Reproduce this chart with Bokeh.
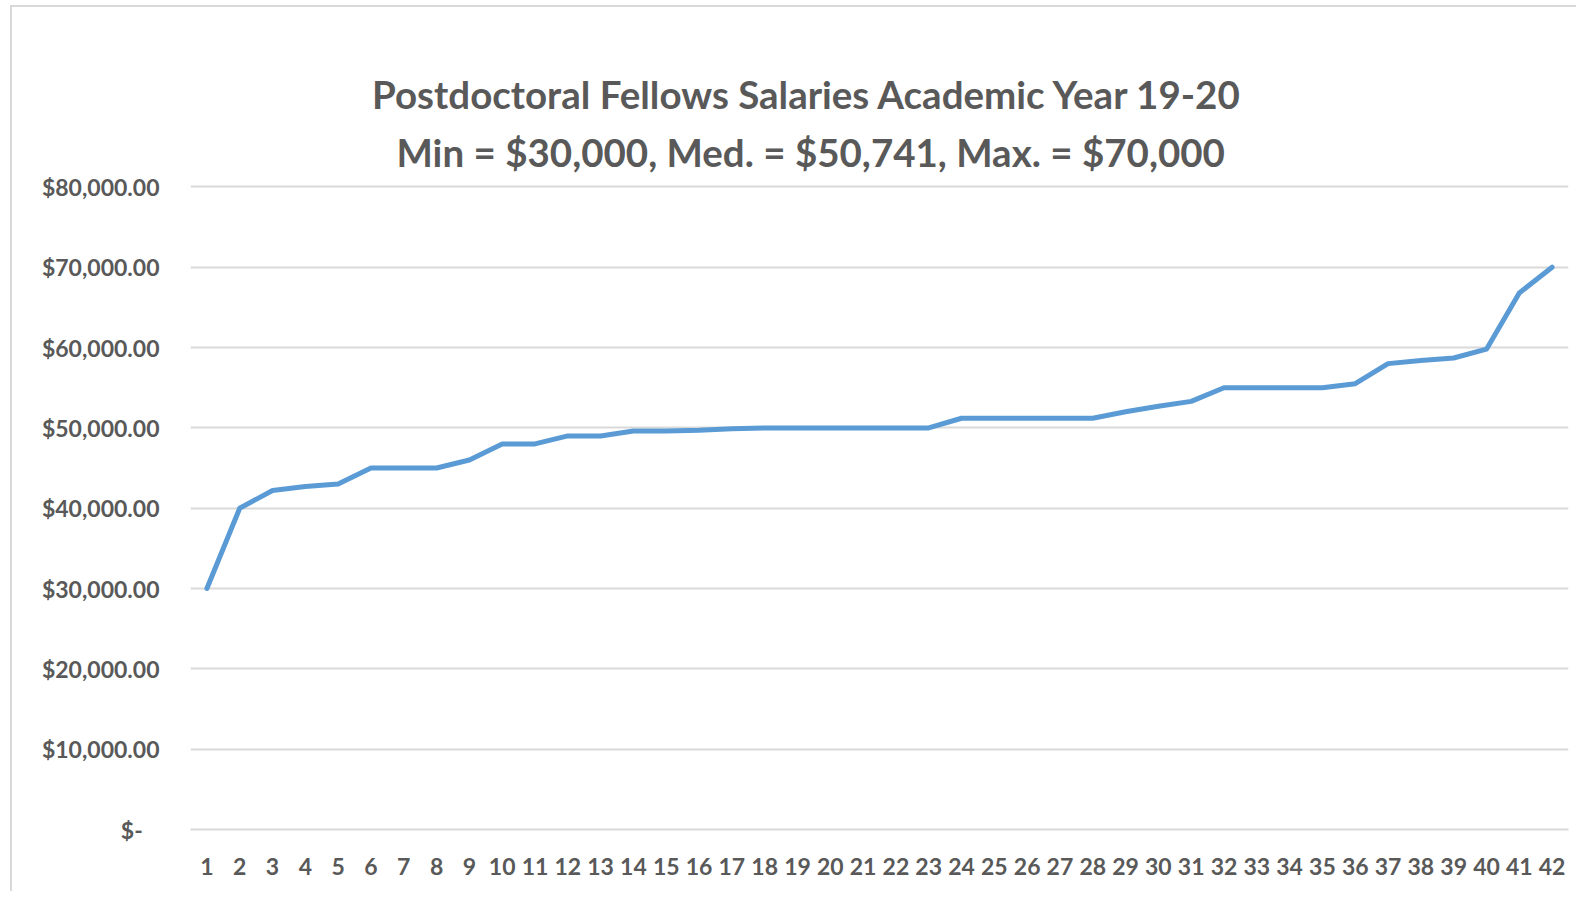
from bokeh.plotting import figure
from bokeh.models import Range1d, FixedTicker, Title, LinearAxis
from bokeh.embed import file_html
from bokeh.resources import INLINE

# ---- data ----
fellow_index = list(range(1, 43))
salaries = [30000, 40000, 42200, 42700, 43000, 45000, 45000, 45000, 46000, 48000,
            48000, 49000, 49000, 49600, 49600, 49700, 49900, 50000, 50000, 50000,
            50000, 50000, 50000, 51200, 51200, 51200, 51200, 51200, 52000, 52700,
            53300, 55000, 55000, 55000, 55000, 55500, 58000, 58400, 58700, 59800,
            66800, 70000]
y_ticks = [0, 10000, 20000, 30000, 40000, 50000, 60000, 70000, 80000]
y_tick_labels = ["$-\u00a0\u00a0\u00a0", "$10,000.00", "$20,000.00", "$30,000.00", "$40,000.00",
                 "$50,000.00", "$60,000.00", "$70,000.00", "$80,000.00"]
x_tick_labels = [str(i) for i in fellow_index]
title_line1 = "Postdoctoral Fellows Salaries Academic Year 19-20"
title_line2 = "Min = $30,000, Med. = $50,741, Max. = $70,000"

FONT = "Lato"
TXT = "#595959"

p = figure(width=1566, height=886, output_backend="svg", toolbar_location=None,
           x_range=Range1d(0.5, 42.5), y_range=Range1d(0, 80300),
           min_border_left=178, min_border_right=10, min_border_bottom=64,
           min_border_top=177)
p.styles = {"border-left": "2px solid #d9d9d9", "border-top": "2px solid #d9d9d9",
            "margin-left": "10px", "margin-top": "5px"}
p.outline_line_color = None

p.line(fellow_index, salaries, line_color="#5B9BD5", line_width=5,
       line_join="round", line_cap="round")

p.xaxis.ticker = FixedTicker(ticks=fellow_index)
p.xaxis.major_label_overrides = {i: s for i, s in zip(fellow_index, x_tick_labels)}
p.yaxis.ticker = FixedTicker(ticks=y_ticks)
p.yaxis.major_label_overrides = {v: s for v, s in zip(y_ticks, y_tick_labels)}

for ax in (p.xaxis, p.yaxis):
    ax.major_tick_line_color = None
    ax.minor_tick_line_color = None
    ax.major_label_text_font = FONT
    ax.major_label_text_font_size = "23px"
    ax.major_label_text_font_style = "bold"
    ax.major_label_text_color = TXT
p.yaxis.axis_line_color = None
p.yaxis.major_label_standoff = 25
p.xaxis.axis_line_color = "#d9d9d9"
p.xaxis.axis_line_width = 2
p.xaxis.major_label_standoff = 22

p.xgrid.grid_line_color = None
p.ygrid.grid_line_color = "#d9d9d9"
p.ygrid.grid_line_width = 2

# empty spacer axis (no ticks, no labels) between the plot area and the title lines
spacer_axis = LinearAxis(ticker=FixedTicker(ticks=[]), axis_line_color=None,
                         major_tick_out=30, major_tick_in=0, minor_tick_out=0, minor_tick_in=0,
                         major_tick_line_color="#ffffff", minor_tick_line_color=None,
                         major_label_standoff=0)
t2 = Title(text=title_line2, align="left", offset=206, text_font=FONT,
           text_font_size="38.5px", text_font_style="bold", text_color=TXT, standoff=20)
t1 = Title(text=title_line1, align="left", offset=181.5, text_font=FONT,
           text_font_size="38.5px", text_font_style="bold", text_color=TXT, standoff=0)
p.add_layout(spacer_axis, "above")
p.add_layout(t2, "above")
p.add_layout(t1, "above")

open("out.html", "w").write(file_html(p, INLINE))
